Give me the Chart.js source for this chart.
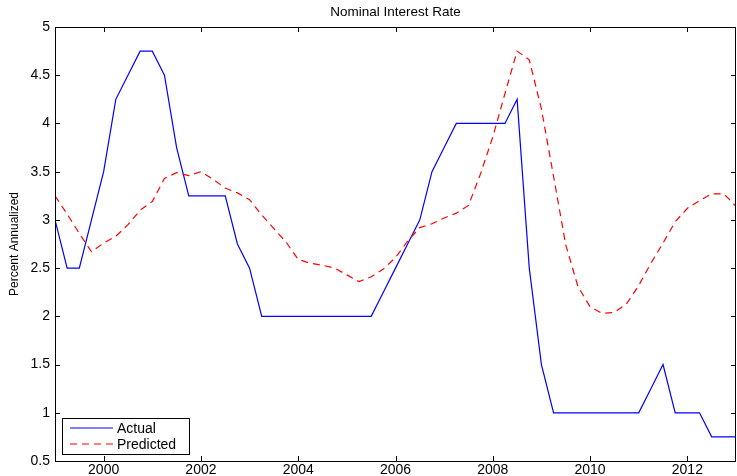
<!DOCTYPE html>
<html>
<head>
<meta charset="utf-8">
<script src="https://cdn.jsdelivr.net/npm/chart.js@4.4.1/dist/chart.umd.min.js"></script>
<style>
  html, body { margin: 0; padding: 0; background: #fff; }
  #wrap { width: 737px; height: 476px; }
</style>
</head>
<body>
<div id="wrap"><canvas id="c" width="737" height="476"></canvas></div>
<script>
// Quarterly dates (decimal years)
const quarters = [
  1999.00, 1999.25, 1999.50, 1999.75, 2000.00, 2000.25, 2000.50, 2000.75,
  2001.00, 2001.25, 2001.50, 2001.75, 2002.00, 2002.25, 2002.50, 2002.75,
  2003.00, 2003.25, 2003.50, 2003.75, 2004.00, 2004.25, 2004.50, 2004.75,
  2005.00, 2005.25, 2005.50, 2005.75, 2006.00, 2006.25, 2006.50, 2006.75,
  2007.00, 2007.25, 2007.50, 2007.75, 2008.00, 2008.25, 2008.50, 2008.75,
  2009.00, 2009.25, 2009.50, 2009.75, 2010.00, 2010.25, 2010.50, 2010.75,
  2011.00, 2011.25, 2011.50, 2011.75, 2012.00, 2012.25, 2012.50, 2012.75,
  2013.00
];

// Observed policy rate, percent annualized
const actualRate = [
  3.00, 2.50, 2.50, 3.00, 3.50, 4.25, 4.50, 4.75,
  4.75, 4.50, 3.75, 3.25, 3.25, 3.25, 3.25, 2.75,
  2.50, 2.00, 2.00, 2.00, 2.00, 2.00, 2.00, 2.00,
  2.00, 2.00, 2.00, 2.25, 2.50, 2.75, 3.00, 3.50,
  3.75, 4.00, 4.00, 4.00, 4.00, 4.00, 4.25, 2.50,
  1.50, 1.00, 1.00, 1.00, 1.00, 1.00, 1.00, 1.00,
  1.00, 1.25, 1.50, 1.00, 1.00, 1.00, 0.75, 0.75,
  0.75
];

// Model-implied rate, percent annualized
const predictedRate = [
  3.25, 3.06, 2.86, 2.67, 2.76, 2.83, 2.95, 3.10,
  3.19, 3.43, 3.49, 3.46, 3.50, 3.42, 3.33, 3.28,
  3.21, 3.05, 2.91, 2.77, 2.59, 2.55, 2.53, 2.50,
  2.43, 2.36, 2.41, 2.49, 2.61, 2.78, 2.92, 2.96,
  3.02, 3.07, 3.15, 3.48, 3.86, 4.31, 4.75, 4.66,
  4.15, 3.45, 2.74, 2.31, 2.10, 2.03, 2.04, 2.13,
  2.32, 2.55, 2.76, 2.98, 3.12, 3.20, 3.27, 3.27,
  3.14
];

const xTicks = [2000, 2002, 2004, 2006, 2008, 2010, 2012];
const yTicks = [0.5, 1, 1.5, 2, 2.5, 3, 3.5, 4, 4.5, 5];

const FONT = "'Liberation Sans', Arial, Helvetica, sans-serif";

const toPoints = (vals) => vals.map((v, i) => ({ x: quarters[i], y: v }));

// Box around the axes with tick marks pointing inward on all four sides
const boxPlugin = {
  id: 'boxTicks',
  afterDatasetsDraw(chart) {
    const { ctx, chartArea: a, scales } = chart;
    const tl = 5;
    ctx.save();
    ctx.strokeStyle = '#000';
    ctx.lineWidth = 1;
    ctx.beginPath();
    xTicks.forEach(v => {
      const px = Math.round(scales.x.getPixelForValue(v)) + 0.5;
      ctx.moveTo(px, a.bottom); ctx.lineTo(px, a.bottom - tl);
      ctx.moveTo(px, a.top); ctx.lineTo(px, a.top + tl);
    });
    yTicks.forEach(v => {
      const py = Math.round(scales.y.getPixelForValue(v)) + 0.5;
      ctx.moveTo(a.left, py); ctx.lineTo(a.left + tl, py);
      ctx.moveTo(a.right, py); ctx.lineTo(a.right - tl, py);
    });
    ctx.stroke();
    ctx.strokeRect(Math.round(a.left) + 0.5, Math.round(a.top) + 0.5,
                   Math.round(a.right - a.left) - 1, Math.round(a.bottom - a.top));
    ctx.restore();
  }
};

// Legend box in the lower-left corner of the axes
const legendBoxPlugin = {
  id: 'legendBox',
  afterDraw(chart) {
    const { ctx, chartArea: a } = chart;
    const x0 = a.left + 7, w = 127, h = 36;
    const y0 = a.bottom - 7 - h;
    ctx.save();
    ctx.fillStyle = '#fff';
    ctx.fillRect(x0, y0, w, h);
    ctx.strokeStyle = '#000';
    ctx.lineWidth = 1;
    ctx.strokeRect(Math.round(x0) + 0.5, Math.round(y0) + 0.5, w, h);
    chart.data.datasets.forEach((ds, i) => {
      const ly = y0 + 10 + i * 16;
      ctx.strokeStyle = ds.borderColor;
      ctx.lineWidth = ds.borderWidth;
      ctx.setLineDash(ds.borderDash || []);
      ctx.beginPath();
      ctx.moveTo(x0 + 8, ly);
      ctx.lineTo(x0 + 51, ly);
      ctx.stroke();
      ctx.setLineDash([]);
      ctx.fillStyle = '#000';
      ctx.font = '14px ' + FONT;
      ctx.textBaseline = 'middle';
      ctx.textAlign = 'left';
      ctx.fillText(ds.label, x0 + 55, ly + 1);
    });
    ctx.restore();
  }
};

new Chart(document.getElementById('c'), {
  type: 'line',
  data: {
    datasets: [
      {
        label: 'Actual',
        data: toPoints(actualRate),
        borderColor: '#0000ff',
        borderWidth: 1.2,
        pointRadius: 0,
        tension: 0,
        order: 1
      },
      {
        label: 'Predicted',
        data: toPoints(predictedRate),
        borderColor: '#ff0000',
        borderWidth: 1.2,
        borderDash: [7, 5],
        pointRadius: 0,
        tension: 0,
        order: 0
      }
    ]
  },
  options: {
    responsive: false,
    animation: false,
    layout: { padding: { left: 0, right: 1, top: 0, bottom: 0 } },
    plugins: {
      legend: { display: false },
      tooltip: { enabled: false },
      title: { display: false }
    },
    scales: {
      x: {
        type: 'linear',
        position: 'bottom',
        min: 1999,
        max: 2013,
        afterBuildTicks(s) { s.ticks = xTicks.map(v => ({ value: v })); },
        afterFit(s) { s.height = 15; },
        grid: { display: false, drawTicks: false },
        border: { display: false },
        ticks: {
          color: '#000',
          padding: 1,
          maxRotation: 0,
          autoSkip: false,
          font: { family: FONT, size: 14 },
          callback: v => String(v)
        }
      },
      xTop: {
        type: 'linear',
        position: 'top',
        min: 1999,
        max: 2013,
        afterFit(s) { s.height = 27; },
        grid: { display: false, drawTicks: false },
        border: { display: false },
        ticks: { display: false },
        title: {
          display: true,
          text: 'Nominal Interest Rate',
          color: '#000',
          font: { family: FONT, size: 13.5 },
          padding: { top: 4, bottom: 0 }
        }
      },
      y: {
        type: 'linear',
        min: 0.5,
        max: 5,
        afterBuildTicks(s) { s.ticks = yTicks.map(v => ({ value: v })); },
        afterFit(s) { s.width = 55; },
        grid: { display: false, drawTicks: false },
        border: { display: false },
        ticks: {
          color: '#000',
          padding: 5,
          autoSkip: false,
          font: { family: FONT, size: 14 },
          callback: v => String(v)
        },
        title: {
          display: true,
          text: 'Percent Annualized',
          color: '#000',
          font: { family: FONT, size: 12 },
          padding: { top: 7, bottom: 0 }
        }
      }
    }
  },
  plugins: [boxPlugin, legendBoxPlugin]
});
</script>
</body>
</html>
